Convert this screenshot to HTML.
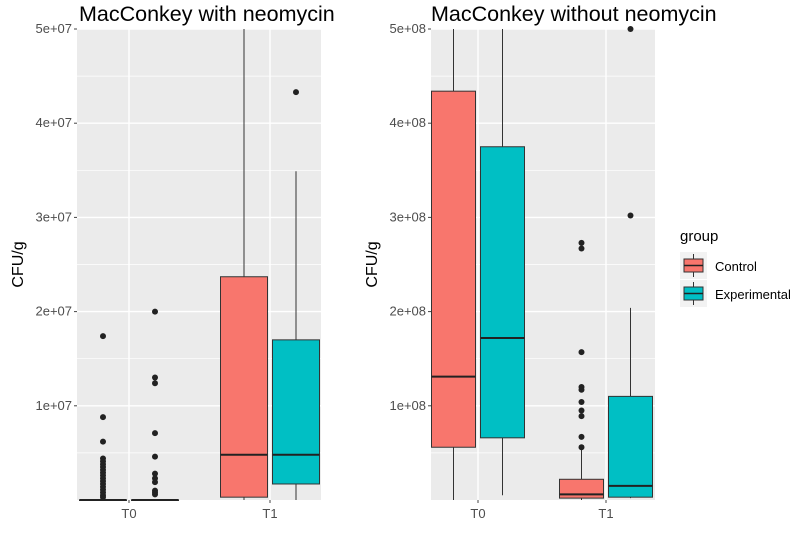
<!DOCTYPE html>
<html><head><meta charset="utf-8"><style>
body{margin:0;background:#fff;}
svg{display:block;font-family:"Liberation Sans",Arial,sans-serif;}
</style></head><body>
<svg id="c" width="797" height="538"></svg>
<script>
// Data (values in CFU/g)
const groups = ["Control","Experimental"];
const times = ["T0","T1"];
const colors = ["#F8766D","#00BFC4"];
// [q1, median, q3, lowWhisker, highWhisker]
const leftStats = [[0,0,0,0,0],[0,0,0,0,0],[0.03e7,0.48e7,2.37e7,0,6e7],[0.17e7,0.48e7,1.7e7,0,3.49e7]];
const leftOutliers = [
  [17.4e6,8.8e6,6.2e6,4.4e6,4.1e6,3.8e6,3.5e6,3.2e6,2.9e6,2.6e6,2.3e6,2.0e6,1.7e6,1.4e6,1.1e6,0.8e6,0.5e6,0.3e6],
  [20e6,13e6,12.4e6,7.1e6,4.6e6,2.8e6,2.3e6,1.9e6,1.0e6,0.8e6,0.6e6],
  [],
  [43.3e6]
];
const rightStats = [[0.56e8,1.31e8,4.34e8,0,6e8],[0.66e8,1.72e8,3.75e8,0.05e8,6e8],[0.02e8,0.06e8,0.22e8,0,0.55e8],[0.03e8,0.15e8,1.10e8,0.02e8,2.04e8]];
const rightOutliers = [[],[],[2.73e8,2.67e8,1.57e8,1.20e8,1.17e8,1.04e8,0.95e8,0.89e8,0.67e8,0.56e8],[3.02e8,5.0e8]];
const leftTicks = ["1e+07","2e+07","3e+07","4e+07","5e+07"];
const rightTicks = ["1e+08","2e+08","3e+08","4e+08","5e+08"];

const svg = document.getElementById('c');
const NS = "http://www.w3.org/2000/svg";
function mk(tag, attrs, parent){const e=document.createElementNS(NS,tag);for(const k in attrs)e.setAttribute(k,attrs[k]);(parent||svg).appendChild(e);return e;}

function panel(p){
  const g = mk('g',{});
  
  
  const y = v => p.y0 - (v/p.max)*(p.y0-p.yTop);
  const bg = mk('rect',{x:p.x0,y:p.yTop,width:p.x1-p.x0,height:p.y0-p.yTop,fill:'#EBEBEB'},g);
  
  
  for(let i=0;i<5;i++){const v=(i+0.5)*p.max/5;mk('line',{x1:p.x0,x2:p.x1,y1:y(v),y2:y(v),stroke:'#fff','stroke-width':0.7},g);}
  p.ticks.forEach((t,i)=>{const v=(i+1)*p.max/5;
    mk('line',{x1:p.x0,x2:p.x1,y1:y(v),y2:y(v),stroke:'#fff','stroke-width':1.4},g);
    mk('line',{x1:p.x0-3,x2:p.x0,y1:y(v),y2:y(v),stroke:'#444','stroke-width':1},g);
    const tx=mk('text',{x:p.x0-5,y:y(v)+4,'text-anchor':'end','font-size':13,fill:'#4D4D4D'},g);tx.textContent=t;
    
    
  });
  times.forEach((t,i)=>{
    mk('line',{x1:p.tx[i],x2:p.tx[i],y1:p.yTop,y2:p.y0,stroke:'#fff','stroke-width':1.4},g);
    mk('line',{x1:p.tx[i],x2:p.tx[i],y1:p.y0,y2:p.y0+3,stroke:'#444'},g);
    const tx=mk('text',{x:p.tx[i],y:p.y0+18,'text-anchor':'middle','font-size':13,fill:'#4D4D4D'},g);tx.textContent=t;
    
    
  });
  const clip = mk('g',{},g);
  p.stats.forEach((s,k)=>{
    const ti=Math.floor(k/2), gi=k%2;
    const cx=p.tx[ti]+(gi===0?-1:1)*p.off;
    const hw=p.hw;
    const bx=mk('g',{},clip);
    
    
    const cl=v=>Math.max(p.yTop,Math.min(p.y0,y(v)));
    mk('line',{x1:cx,x2:cx,y1:cl(s[4]),y2:cl(s[3]),stroke:'#333','stroke-width':1},bx);
    mk('rect',{x:cx-hw,y:cl(s[2]),width:2*hw,height:Math.max(0.5,cl(s[0])-cl(s[2])),fill:colors[gi],stroke:'#333','stroke-width':1},bx);
    mk('line',{x1:cx-hw,x2:cx+hw,y1:cl(s[1]),y2:cl(s[1]),stroke:'#222','stroke-width':2},bx);
    p.out[k].forEach(o=>{const c=mk('circle',{cx:cx,cy:cl(o),r:3,fill:'#222'},bx);
      
      });
  });
  const tt=mk('text',{x:p.titleX,y:21,'font-size':21.5,fill:'#000'},g);tt.textContent=p.title;
  
  
  const yl=mk('text',{x:0,y:0,'font-size':16,fill:'#000','text-anchor':'middle',transform:`translate(${p.ylabX},${(p.yTop+p.y0)/2}) rotate(-90)`},g);yl.textContent='CFU/g';
  
  
}
panel({name:'left-panel',x0:77,x1:321,yTop:29,y0:500,max:5e7,ticks:leftTicks,tx:[129,270],off:26,hw:23.5,stats:leftStats,out:leftOutliers,title:'MacConkey with neomycin',titleX:79,ylabX:23});
panel({name:'right-panel',x0:431,x1:655,yTop:29,y0:500,max:5e8,ticks:rightTicks,tx:[478,606],off:24.5,hw:22,stats:rightStats,out:rightOutliers,title:'MacConkey without neomycin',titleX:431,ylabX:377});

const lg=mk('g',{});


const lt=mk('text',{x:680,y:241,'font-size':15,fill:'#000'},lg);lt.textContent='group';
groups.forEach((gname,i)=>{
  const yy=252+i*28;
  const e=mk('g',{},lg);
  
  
  mk('rect',{x:680,y:yy,width:27,height:27,fill:'#F2F2F2'},e);
  mk('line',{x1:693.5,x2:693.5,y1:yy+2,y2:yy+25,stroke:'#333'},e);
  mk('rect',{x:684,y:yy+7,width:19,height:13,fill:colors[i],stroke:'#333'},e);
  mk('line',{x1:684,x2:703,y1:yy+13.5,y2:yy+13.5,stroke:'#222','stroke-width':1.5},e);
  const t=mk('text',{x:715,y:yy+19,'font-size':13,fill:'#000'},e);t.textContent=gname;
});
</script>
</body></html>
